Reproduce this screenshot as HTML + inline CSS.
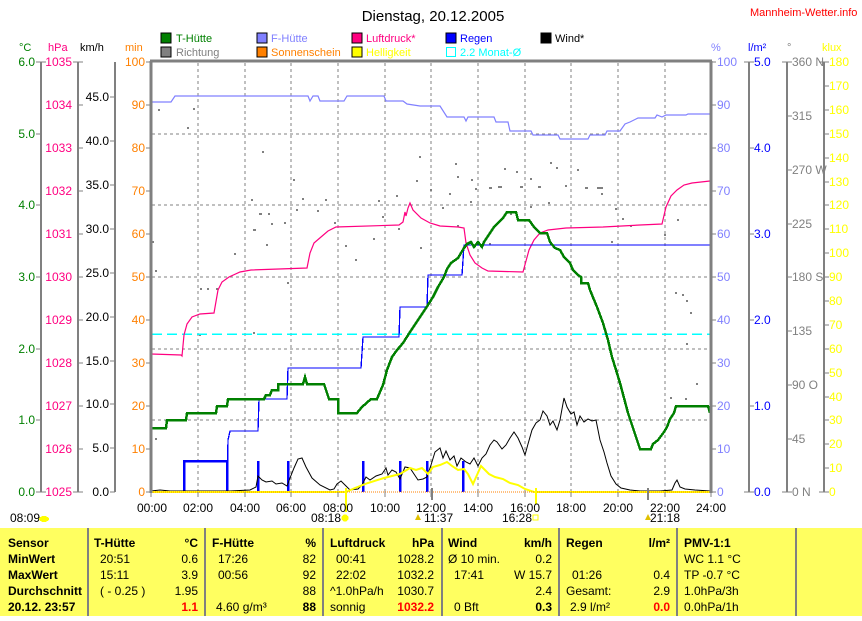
<!DOCTYPE html>
<html><head><meta charset="utf-8"><style>
body{margin:0;background:#fff;width:862px;height:616px;overflow:hidden;font-family:"Liberation Sans",sans-serif}
svg text{font-family:"Liberation Sans",sans-serif}
</style></head><body>
<svg width="862" height="616" viewBox="0 0 862 616" xmlns="http://www.w3.org/2000/svg" shape-rendering="crispEdges">
<rect width="862" height="616" fill="#fff"/>
<text x="433" y="21" font-size="15" text-anchor="middle">Dienstag, 20.12.2005</text>
<text x="750" y="16" font-size="11" fill="#ff0000">Mannheim-Wetter.info</text>
<!-- legend -->
<g font-size="11">
<rect x="161" y="33" width="10" height="10" fill="#008000" stroke="#000"/><text x="176" y="42" fill="#008000">T-Hütte</text>
<rect x="161" y="47" width="10" height="10" fill="#808080" stroke="#000"/><text x="176" y="56" fill="#808080">Richtung</text>
<rect x="257" y="33" width="10" height="10" fill="#8080ff" stroke="#000"/><text x="271" y="42" fill="#8080ff">F-Hütte</text>
<rect x="257" y="47" width="10" height="10" fill="#ff8000" stroke="#000"/><text x="271" y="56" fill="#ff8000">Sonnenschein</text>
<rect x="352" y="33" width="10" height="10" fill="#ff0080" stroke="#000"/><text x="366" y="42" fill="#ff0080">Luftdruck*</text>
<rect x="352" y="47" width="10" height="10" fill="#ffff00" stroke="#000"/><text x="366" y="56" fill="#ffff00">Helligkeit</text>
<rect x="446" y="33" width="10" height="10" fill="#0000ff" stroke="#000"/><text x="460" y="42" fill="#0000ff">Regen</text>
<rect x="446.5" y="47.5" width="9" height="9" fill="none" stroke="#00ffff"/><text x="460" y="56" fill="#00ffff">2.2 Monat-Ø</text>
<rect x="541" y="33" width="10" height="10" fill="#000" stroke="#000"/><text x="555" y="42" fill="#000">Wind*</text>
</g>
<g font-size="11">
<text x="19" y="51" fill="#008000">°C</text><text x="48" y="51" fill="#ff0080">hPa</text><text x="80" y="51" fill="#000">km/h</text><text x="125" y="51" fill="#ff8000">min</text>
<text x="711" y="51" fill="#8080ff">%</text><text x="748" y="51" fill="#0000ff">l/m²</text><text x="787" y="51" fill="#808080">°</text><text x="822" y="51" fill="#ffff00">klux</text>
</g>
<!-- axes lines -->
<g stroke="#808080" stroke-width="2">
<line x1="41" y1="62" x2="41" y2="492"/><line x1="78" y1="62" x2="78" y2="492"/><line x1="115" y1="62" x2="115" y2="492"/>
<line x1="749" y1="62" x2="749" y2="492"/><line x1="787" y1="62" x2="787" y2="492"/><line x1="824" y1="62" x2="824" y2="492"/>
</g>
<g stroke="#808080" stroke-width="1">
<path d="M36 62h10M36 134h5M36 205h5M36 277h5M36 349h5M36 420h5M36 492h10"/>
<path d="M73 62h10M78 105h5M78 148h5M78 191h5M78 234h5M78 277h5M78 320h5M78 363h5M78 406h5M78 449h5M73 492h10"/>
<path d="M110 97h5M110 141h5M110 185h5M110 229h5M110 273h5M110 317h5M110 361h5M110 404h5M110 448h5M110 492h5"/>
<path d="M146 62h5M146 105h5M146 148h5M146 191h5M146 234h5M146 277h5M146 320h5M146 363h5M146 406h5M146 449h5M146 492h5"/>
<path d="M711 62h5M711 105h5M711 148h5M711 191h5M711 234h5M711 277h5M711 320h5M711 363h5M711 406h5M711 449h5M711 492h5"/>
<path d="M744 62h10M749 148h5M749 234h5M749 320h5M749 406h5M744 492h10"/>
<path d="M782 62h10M787 116h5M787 170h5M787 224h5M787 277h5M787 331h5M787 385h5M787 439h5M782 492h10"/>
<path d="M819 62h10M824 86h5M824 110h5M824 134h5M824 158h5M824 182h5M824 205h5M824 229h5M824 253h5M824 277h5M824 301h5M824 325h5M824 349h5M824 373h5M824 397h5M824 420h5M824 444h5M824 468h5M819 492h10"/>
</g>
<g font-size="12">
<g fill="#008000" text-anchor="end"><text x="35" y="66">6.0</text><text x="35" y="138">5.0</text><text x="35" y="209">4.0</text><text x="35" y="281">3.0</text><text x="35" y="353">2.0</text><text x="35" y="424">1.0</text><text x="35" y="496">0.0</text></g>
<g fill="#ff0080" text-anchor="end"><text x="72" y="66">1035</text><text x="72" y="109">1034</text><text x="72" y="152">1033</text><text x="72" y="195">1032</text><text x="72" y="238">1031</text><text x="72" y="281">1030</text><text x="72" y="324">1029</text><text x="72" y="367">1028</text><text x="72" y="410">1027</text><text x="72" y="453">1026</text><text x="72" y="496">1025</text></g>
<g fill="#000" text-anchor="end"><text x="109" y="101">45.0</text><text x="109" y="145">40.0</text><text x="109" y="189">35.0</text><text x="109" y="233">30.0</text><text x="109" y="277">25.0</text><text x="109" y="321">20.0</text><text x="109" y="365">15.0</text><text x="109" y="408">10.0</text><text x="109" y="452">5.0</text><text x="109" y="496">0.0</text></g>
<g fill="#ff8000" text-anchor="end"><text x="145" y="66">100</text><text x="145" y="109">90</text><text x="145" y="152">80</text><text x="145" y="195">70</text><text x="145" y="238">60</text><text x="145" y="281">50</text><text x="145" y="324">40</text><text x="145" y="367">30</text><text x="145" y="410">20</text><text x="145" y="453">10</text><text x="145" y="496">0</text></g>
<g fill="#8080ff"><text x="717" y="66">100</text><text x="717" y="109">90</text><text x="717" y="152">80</text><text x="717" y="195">70</text><text x="717" y="238">60</text><text x="717" y="281">50</text><text x="717" y="324">40</text><text x="717" y="367">30</text><text x="717" y="410">20</text><text x="717" y="453">10</text><text x="717" y="496">0</text></g>
<g fill="#0000ff"><text x="754" y="66">5.0</text><text x="754" y="152">4.0</text><text x="754" y="238">3.0</text><text x="754" y="324">2.0</text><text x="754" y="410">1.0</text><text x="754" y="496">0.0</text></g>
<g fill="#808080"><text x="792" y="66">360 N</text><text x="792" y="120">315</text><text x="792" y="174">270 W</text><text x="792" y="228">225</text><text x="792" y="281">180 S</text><text x="792" y="335">135</text><text x="792" y="389">90  O</text><text x="792" y="443">45</text><text x="792" y="496">0   N</text></g>
<g fill="#ffff00"><text x="829" y="66">180</text><text x="829" y="90">170</text><text x="829" y="114">160</text><text x="829" y="138">150</text><text x="829" y="162">140</text><text x="829" y="186">130</text><text x="829" y="209">120</text><text x="829" y="233">110</text><text x="829" y="257">100</text><text x="829" y="281">90</text><text x="829" y="305">80</text><text x="829" y="329">70</text><text x="829" y="353">60</text><text x="829" y="377">50</text><text x="829" y="401">40</text><text x="829" y="424">30</text><text x="829" y="448">20</text><text x="829" y="472">10</text><text x="829" y="496">0</text></g>
</g>
<!-- grid -->
<g stroke="#808080" stroke-dasharray="3,3" stroke-width="1">
<path d="M198 63V492M245 63V492M291 63V492M338 63V492M385 63V492M431 63V492M478 63V492M525 63V492M571 63V492M618 63V492M665 63V492"/>
<path d="M152 134H710M152 205H710M152 277H710M152 349H710M152 420H710"/>
</g>
<!-- direction dots -->
<g fill="#808080">
<rect x="158" y="109" width="2" height="2"/><rect x="193" y="108" width="2" height="2"/><rect x="187" y="127" width="2" height="2"/><rect x="262" y="151" width="2" height="2"/><rect x="293" y="179" width="2" height="2"/><rect x="302" y="198" width="2" height="2"/><rect x="251" y="199" width="2" height="2"/><rect x="259" y="213" width="3" height="2"/><rect x="268" y="213" width="2" height="2"/><rect x="296" y="209" width="2" height="2"/><rect x="271" y="223" width="2" height="2"/><rect x="253" y="229" width="3" height="2"/><rect x="284" y="222" width="2" height="2"/><rect x="317" y="210" width="2" height="2"/><rect x="334" y="222" width="2" height="2"/><rect x="382" y="216" width="2" height="2"/><rect x="378" y="200" width="2" height="2"/><rect x="396" y="195" width="2" height="2"/><rect x="416" y="180" width="2" height="2"/><rect x="419" y="156" width="2" height="2"/><rect x="430" y="189" width="2" height="2"/><rect x="455" y="163" width="2" height="2"/><rect x="457" y="176" width="2" height="2"/><rect x="471" y="179" width="2" height="2"/><rect x="489" y="187" width="3" height="2"/><rect x="498" y="186" width="4" height="2"/><rect x="504" y="168" width="2" height="2"/><rect x="516" y="171" width="2" height="2"/><rect x="530" y="178" width="2" height="2"/><rect x="538" y="186" width="3" height="2"/><rect x="556" y="167" width="2" height="2"/><rect x="577" y="169" width="2" height="2"/><rect x="585" y="187" width="3" height="2"/><rect x="597" y="187" width="6" height="2"/><rect x="601" y="193" width="2" height="2"/><rect x="615" y="208" width="2" height="2"/><rect x="622" y="218" width="2" height="2"/><rect x="630" y="225" width="2" height="2"/><rect x="611" y="241" width="2" height="2"/><rect x="510" y="213" width="2" height="2"/><rect x="530" y="206" width="2" height="2"/><rect x="548" y="202" width="2" height="2"/><rect x="442" y="207" width="2" height="2"/><rect x="457" y="225" width="2" height="2"/><rect x="470" y="201" width="2" height="2"/><rect x="398" y="228" width="2" height="2"/><rect x="420" y="247" width="2" height="2"/><rect x="373" y="238" width="2" height="2"/><rect x="355" y="259" width="2" height="2"/><rect x="345" y="245" width="2" height="2"/><rect x="664" y="234" width="2" height="2"/><rect x="677" y="219" width="2" height="2"/><rect x="675" y="292" width="2" height="2"/><rect x="682" y="294" width="2" height="2"/><rect x="686" y="300" width="2" height="2"/><rect x="690" y="312" width="2" height="2"/><rect x="686" y="343" width="2" height="2"/><rect x="685" y="398" width="2" height="2"/><rect x="696" y="383" width="2" height="2"/><rect x="152" y="241" width="2" height="2"/><rect x="155" y="270" width="2" height="2"/><rect x="207" y="288" width="2" height="2"/><rect x="216" y="288" width="2" height="2"/><rect x="200" y="288" width="2" height="2"/><rect x="253" y="332" width="2" height="2"/><rect x="287" y="282" width="2" height="2"/><rect x="234" y="253" width="2" height="2"/><rect x="266" y="244" width="2" height="2"/><rect x="155" y="438" width="2" height="2"/><rect x="670" y="397" width="2" height="2"/><rect x="199" y="334" width="2" height="2"/><rect x="325" y="199" width="2" height="2"/><rect x="550" y="162" width="2" height="2"/><rect x="520" y="186" width="3" height="2"/><rect x="565" y="185" width="2" height="2"/><rect x="475" y="188" width="2" height="2"/><rect x="449" y="193" width="2" height="2"/><rect x="489" y="243" width="2" height="2"/></g>
<!-- cyan -->
<line x1="152" y1="334" x2="710" y2="334" stroke="#00ffff" stroke-width="1.5" stroke-dasharray="10,5"/>
<g fill="none" shape-rendering="auto">
<!-- humidity -->
<polyline stroke="#8080ff" stroke-width="1.2" points="151,102 171,102 175,96 308,96 310,101 313,96 318,96 320,101 344,101 347,96 384,96 386,101 403,101 407,104 420,106 440,106 447,117 464,117 466,121 468,117 494,117 496,122 508,122 510,131 531,131 533,135 558,135 560,139 588,139 590,135 605,135 607,131 620,131 625,124 630,122 638,118 655,118 657,115 662,117 666,115 686,115 688,114 710,114"/>
<!-- pressure -->
<polyline stroke="#ff0080" stroke-width="1.2" points="151,354 181,355 182,356 184,335 187,324 192,317 200,314 214,313 218,290 222,282 229,277 240,272 251,270 307,268 310,253 314,243 321,237 328,231 336,227 399,225 403,222 405,212 406,216 408,208 410,203 413,210 421,218 430,223 440,226 458,227 464,228 466,243 470,255 475,263 482,268 488,271 523,272 526,261 529,250 534,240 540,233 548,230 566,228 603,227 640,225 662,224 666,207 671,196 677,190 684,185 692,183 710,181"/>
<!-- rain cumulative -->
<polyline stroke="#0000ff" stroke-width="1.3" shape-rendering="crispEdges" points="151,492 227,492 228,440 230,431 258,431 259,399 287,399 288,368 361,368 363,337 399,337 400,307 427,307 428,275 462,275 464,245 710,245"/>
<!-- rain bars -->
<g stroke="#0000ff" stroke-width="2.5" shape-rendering="crispEdges"><path d="M184 492V461H227V492M258 492V461M288 492V461M363 492V461M400 492V461M427 492V461M463 492V461"/></g>
<!-- wind -->
<polyline stroke="#000" stroke-width="1" points="151,491 160,490 170,491 200,491 230,491 250,490 256,487 258,476 262,480 266,482 272,481 276,484 282,483 287,486 290,478 294,468 298,459 302,458 306,467 312,478 320,485 330,490 334,489 337,484 341,481 345,485 350,490 358,489 362,485 366,477 370,480 376,476 382,474 386,468 388,475 392,470 396,472 400,479 405,467 410,468 414,474 418,480 423,479 427,477 431,465 435,452 440,448 443,458 446,451 450,460 454,456 457,466 461,458 466,462 470,464 474,458 478,466 482,458 486,454 490,445 494,440 497,442 502,449 506,445 510,438 514,432 518,438 522,447 525,455 528,444 532,430 536,423 540,420 543,411 547,416 550,425 553,421 557,430 560,420 564,398 567,407 571,414 574,412 577,425 580,416 584,422 588,419 592,421 596,420 600,440 604,452 607,463 611,476 616,484 621,488 630,490 640,491 660,491 672,490 675,483 677,480 680,487 685,489 695,490 710,491"/>
<!-- sunshine -->
<polyline stroke="#ffff00" stroke-width="2" points="151,492 346,492 355,488 368,483 384,478 392,476 400,474 410,468 416,470 422,468 428,474 433,467 440,465 447,462 452,466 458,470 464,469 468,474 473,484 477,475 481,466 485,470 489,474 495,477 503,479 510,483 518,485 525,489 534,492 710,492"/>
<line x1="151" y1="492" x2="710" y2="492" stroke="#ff8000" stroke-width="1" stroke-dasharray="1,1"/>
<!-- temperature -->
<polyline stroke="#008000" stroke-width="2.5" shape-rendering="crispEdges" points="151,428 166,428 167,420 186,420 187,413 216,413 217,406 227,406 228,399 264,399 266,395 270,395 272,390 278,390 278,384 303,384 305,377 307,384 324,384 329,399 338,399 338,413 357,413 362,407 371,399 377,399 383,385 387,370 392,357 397,350 403,343 410,332 418,320 426,308 433,297 438,287 444,277 447,269 451,263 458,258 464,248 467,244 471,242 474,247 478,242 482,247 484,242 488,236 494,227 499,222 503,218 507,212 516,212 518,220 529,220 534,227 540,233 547,233 550,242 555,248 560,250 564,257 570,263 573,270 578,275 581,277 581,283 588,283 590,290 597,307 603,323 608,340 612,357 616,370 620,383 624,398 628,413 633,428 637,440 640,449 651,449 653,444 658,440 664,432 667,427 670,419 674,413 676,406 681,406 683,406 708,406 710,413"/>
</g>
<!-- plot border -->
<g stroke="#808080" stroke-width="3"><line x1="150" y1="61" x2="712" y2="61"/><line x1="151" y1="61" x2="151" y2="493"/><line x1="711" y1="61" x2="711" y2="493"/></g>
<!-- x ticks -->
<g stroke="#808080" stroke-width="1"><path d="M151 492v5M198 492v5M245 492v5M291 492v5M338 492v5M385 492v5M431 492v5M478 492v5M525 492v5M571 492v5M618 492v5M665 492v5M711 492v5"/></g>
<g stroke="#808080" stroke-width="2"><path d="M432 488v12M648 488v12"/></g>
<line x1="346" y1="488" x2="346" y2="512" stroke="#ffff00" stroke-width="2"/>
<line x1="536" y1="488" x2="536" y2="504" stroke="#ffff00" stroke-width="2"/>
<g font-size="12" text-anchor="middle"><text x="152" y="512">00:00</text><text x="198" y="512">02:00</text><text x="245" y="512">04:00</text><text x="291" y="512">06:00</text><text x="338" y="512">08:00</text><text x="385" y="512">10:00</text><text x="431" y="512">12:00</text><text x="478" y="512">14:00</text><text x="525" y="512">16:00</text><text x="571" y="512">18:00</text><text x="618" y="512">20:00</text><text x="665" y="512">22:00</text><text x="711" y="512">24:00</text></g>
<g font-size="12"><text x="10" y="522">08:09</text><text x="311" y="522">08:18</text><text x="424" y="522">11:37</text><text x="502" y="522">16:28</text><text x="650" y="522">21:18</text></g>
<ellipse cx="44" cy="519" rx="5" ry="3" fill="#ffff00"/><circle cx="345" cy="518" r="3.5" fill="#ffff00"/><rect x="533" y="515" width="5" height="5" fill="none" stroke="#ffff00"/><path d="M648 514l3 6h-6z" fill="#e0c000"/><path d="M418 514l3 6h-6z" fill="#e0c000"/>
<!-- table -->
<rect x="0" y="528" width="862" height="88" fill="#ffff60"/>
<g stroke="#808080" stroke-width="2"><path d="M88 528V616M205 528V616M323 528V616M442 528V616M559 528V616M677 528V616M796 528V616"/></g>
<g font-size="12">
<g font-weight="bold"><text x="8" y="547">Sensor</text><text x="8" y="563">MinWert</text><text x="8" y="579">MaxWert</text><text x="8" y="595">Durchschnitt</text><text x="8" y="611">20.12. 23:57</text>
<text x="94" y="547">T-Hütte</text><text x="212" y="547">F-Hütte</text><text x="330" y="547">Luftdruck</text><text x="448" y="547">Wind</text><text x="566" y="547">Regen</text><text x="684" y="547">PMV-1:1</text></g>
<g text-anchor="end"><text x="198" y="547" font-weight="bold">°C</text><text x="198" y="563">0.6</text><text x="198" y="579">3.9</text><text x="198" y="595">1.95</text><text x="198" y="611" font-weight="bold" fill="#ff0000">1.1</text>
<text x="316" y="547" font-weight="bold">%</text><text x="316" y="563">82</text><text x="316" y="579">92</text><text x="316" y="595">88</text><text x="316" y="611" font-weight="bold">88</text>
<text x="434" y="547" font-weight="bold">hPa</text><text x="434" y="563">1028.2</text><text x="434" y="579">1032.2</text><text x="434" y="595">1030.7</text><text x="434" y="611" font-weight="bold" fill="#ff0000">1032.2</text>
<text x="552" y="547" font-weight="bold">km/h</text><text x="552" y="563">0.2</text><text x="552" y="579">W 15.7</text><text x="552" y="595">2.4</text><text x="552" y="611" font-weight="bold">0.3</text>
<text x="670" y="547" font-weight="bold">l/m²</text><text x="670" y="579">0.4</text><text x="670" y="595">2.9</text><text x="670" y="611" font-weight="bold" fill="#ff0000">0.0</text></g>
<text x="100" y="563">20:51</text><text x="100" y="579">15:11</text><text x="100" y="595">( - 0.25 )</text>
<text x="218" y="563">17:26</text><text x="218" y="579">00:56</text><text x="216" y="611">4.60 g/m³</text>
<text x="336" y="563">00:41</text><text x="336" y="579">22:02</text><text x="330" y="595">^1.0hPa/h</text><text x="330" y="611">sonnig</text>
<text x="448" y="563">Ø 10 min.</text><text x="454" y="579">17:41</text><text x="454" y="611">0 Bft</text>
<text x="572" y="579">01:26</text><text x="566" y="595">Gesamt:</text><text x="570" y="611">2.9 l/m²</text>
<text x="684" y="563">WC 1.1 °C</text><text x="684" y="579">TP -0.7 °C</text><text x="684" y="595">1.0hPa/3h</text><text x="684" y="611">0.0hPa/1h</text>
</g>
</svg>
</body></html>
